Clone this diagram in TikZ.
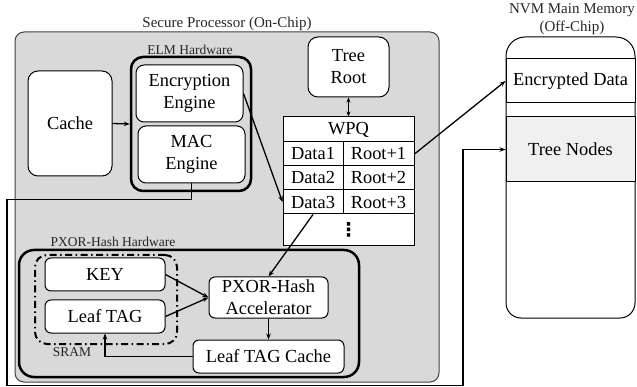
\documentclass[tikz,border=0pt]{standalone}
\usepackage{fontspec}
\setmainfont{Liberation Serif}
\newfontfamily\symfont{DejaVu Sans}
\usetikzlibrary{arrows.meta}
\begin{document}
\begin{tikzpicture}[x=1pt,y=-1pt,
  box/.style={draw, rounded corners=6pt, line width=1pt, fill=white, inner sep=0pt, align=center, font=\fontsize{18.4}{22}\selectfont},
  cell/.style={draw, line width=1pt, fill=white, inner sep=0pt, font=\fontsize{18.4}{22}\selectfont},
  arr/.style={-{Stealth[length=6pt,width=4.5pt]}, line width=1.3pt},
  lbl/.style={font=\fontsize{15}{17}\selectfont, text=black!85, inner sep=0pt},
  slbl/.style={font=\fontsize{13.5}{15}\selectfont, text=black!85, inner sep=0pt},
  thickbox/.style={draw, line width=2.5pt, inner sep=0pt}
]
\useasboundingbox (0,0) rectangle (637,387);

% Secure processor
\node[draw=black!75, line width=1pt, fill=gray!30, rounded corners=9pt, minimum width=424pt, minimum height=350pt] (sp) at (227,207) {};
\node[lbl] (splbl) at (227,24) {Secure Processor (On-Chip)};

% ELM hardware
\node[thickbox, rounded corners=12pt, minimum width=120pt, minimum height=134pt] (elm) at (191,124) {};
\node[slbl] (elmlbl) at (190,50) {ELM Hardware};
\node[box, rounded corners=8pt, minimum width=107pt, minimum height=57pt] (enc) at (189.5,93.5) {Encryption\\Engine};
\node[box, rounded corners=8pt, minimum width=107pt, minimum height=57pt] (mac) at (191.5,154.5) {MAC\\Engine};

% Cache
\node[box, rounded corners=10pt, minimum width=84pt, minimum height=105pt] (cache) at (70,123.5) {Cache};

% Tree root
\node[box, rounded corners=10pt, minimum width=81pt, minimum height=60pt] (root) at (348.5,67) {Tree\\Root};

% WPQ
\node[cell, minimum width=131pt, minimum height=25pt] (wpq) at (348.5,129.5) {WPQ};
\node[cell, minimum width=60pt, minimum height=24pt] (d1) at (313,154) {Data1};
\node[cell, minimum width=71pt, minimum height=24pt] (r1) at (378.5,154) {Root+1};
\node[cell, minimum width=60pt, minimum height=24pt] (d2) at (313,178) {Data2};
\node[cell, minimum width=71pt, minimum height=24pt] (r2) at (378.5,178) {Root+2};
\node[cell, minimum width=60pt, minimum height=24pt] (d3) at (313,202) {Data3};
\node[cell, minimum width=71pt, minimum height=24pt] (r3) at (378.5,202) {Root+3};
\node[cell, minimum width=131pt, minimum height=32pt, font=\symfont\bfseries\fontsize{19}{22}\selectfont] (dots) at (348.5,230) {⋮};

% PXOR-Hash hardware
\node[thickbox, rounded corners=15pt, minimum width=340pt, minimum height=127pt] (pxor) at (189,313.5) {};
\node[slbl] (pxlbl) at (113,242) {PXOR-Hash Hardware};
\node[draw, line width=2pt, rounded corners=12pt, dash pattern=on 7pt off 3.5pt on 1.5pt off 3.5pt, minimum width=142pt, minimum height=89pt, inner sep=0pt] (sram) at (106,299.5) {};
\node[slbl] (sramlbl) at (72,352) {SRAM};
\node[box, minimum width=120pt, minimum height=33pt] (key) at (105,274.5) {KEY};
\node[box, minimum width=120pt, minimum height=33pt] (ltag) at (105,316.5) {Leaf TAG};
\node[box, minimum width=119pt, minimum height=41pt] (acc) at (268.5,297.5) {PXOR-Hash\\Accelerator};
\node[box, minimum width=151pt, minimum height=33pt] (ltc) at (268.5,356.5) {Leaf TAG Cache};

% NVM memory
\node[lbl] (nvm1) at (572,10) {NVM Main Memory};
\node[lbl] (nvm2) at (572,28) {(Off-Chip)};
\draw[line width=1pt, fill=white] (506,150) [rounded corners=19pt] -- (506,37) -- (635,37) [sharp corners] -- (635,150) -- cycle;
\draw[line width=1pt, fill=white] (506,150) [rounded corners=15pt] -- (506,318) -- (635,318) [sharp corners] -- (635,150);
\fill[white] (507,140) rectangle (634,160);
\node[cell, minimum width=129pt, minimum height=44pt] (encd) at (570.5,81) {Encrypted Data};
\node[cell, fill=gray!12, minimum width=129pt, minimum height=65pt] (tn) at (570.5,149.5) {Tree Nodes};

% connectors
\draw[arr] (cache.east) -- (elm.west);
\draw[arr, {Stealth[length=5pt,width=4pt]}-{Stealth[length=5pt,width=4pt]}] (root.south) -- (wpq.north);
\draw[arr] (enc.east) -- (d3.west);
\draw[arr] (r1.east) -- (encd.west);
\draw[arr] (d3.south) -- (acc.north);
\draw[arr] (key.east) -- (acc.west);
\draw[arr] (ltag.east) -- (acc.west);
\draw[arr] (acc.south) -- (ltc.north);
\draw[arr] (ltc.west) -| (ltag.south);
\draw[arr, line width=1.8pt] (mac.south) |- (7,199.5) -- (7,385.5) -- (463,385.5) |- (tn.west);
\end{tikzpicture}
\end{document}
